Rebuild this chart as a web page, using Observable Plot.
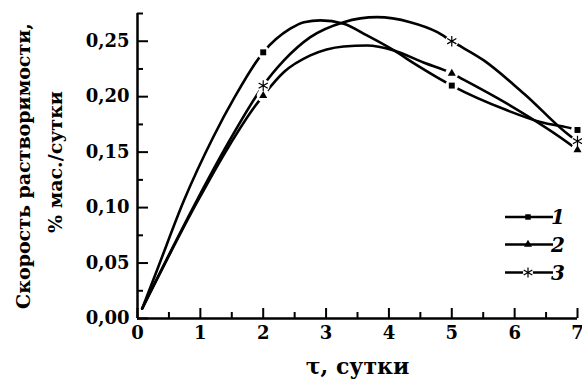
<!DOCTYPE html>
<html><head><meta charset="utf-8">
<script src="https://cdn.jsdelivr.net/npm/d3@7"></script>
<script src="https://cdn.jsdelivr.net/npm/@observablehq/plot@0.6"></script>
<style>
body{margin:0;background:#fff}
#chart{width:582px;height:387px}
</style>
</head><body><div id="chart"></div>
<script>
// ---- data ----
const seriesNames = ["1", "2", "3"];
const seriesSymbols = ["square", "triangle", "asterisk"];

// measured points (markers)
const markerX = [2, 5, 7];
const markerY1 = [0.240, 0.210, 0.170];
const markerY2 = [0.201, 0.221, 0.152];
const markerY3 = [0.210, 0.250, 0.160];

// fitted curves
const curve1X = [0.075, 0.33, 0.74, 1.2, 1.55, 2.0, 2.43, 2.65, 2.91, 3.28, 3.65, 4.08, 4.45, 5.0, 5.88, 6.41, 6.92, 7.0];
const curve1Y = [0.009, 0.0465, 0.1066, 0.163, 0.200, 0.240, 0.2613, 0.2672, 0.2688, 0.2658, 0.2552, 0.2417, 0.2282, 0.210, 0.1877, 0.1771, 0.1712, 0.170];
const curve2X = [0.075, 0.954, 1.44, 1.877, 2.0, 2.33, 2.75, 3.28, 3.65, 4.08, 4.55, 5.0, 5.14, 5.88, 6.94, 7.0];
const curve2Y = [0.009, 0.1055, 0.154, 0.192, 0.201, 0.2222, 0.2372, 0.2453, 0.2462, 0.2417, 0.2308, 0.221, 0.2168, 0.1937, 0.1546, 0.152];
const curve3X = [0.075, 0.954, 1.44, 1.877, 2.0, 2.33, 2.75, 3.28, 3.81, 4.34, 4.77, 5.0, 5.51, 6.15, 6.94, 7.0];
const curve3Y = [0.009, 0.1075, 0.158, 0.1995, 0.210, 0.2327, 0.2537, 0.2672, 0.2717, 0.2672, 0.2582, 0.250, 0.2327, 0.2027, 0.1622, 0.160];

const xTicks = [0, 1, 2, 3, 4, 5, 6, 7];
const xMinorTicks = [0.5, 1.5, 2.5, 3.5, 4.5, 5.5, 6.5];
const yTicks = [0, 0.05, 0.10, 0.15, 0.20, 0.25];
const yMinorTicks = [0.025, 0.075, 0.125, 0.175, 0.225, 0.275];

const xLabel = "τ, сутки";
const yLabel1 = "Скорость растворимости,";
const yLabel2 = "% мас./сутки";

// ---- tables for Plot ----
const curveX = [curve1X, curve2X, curve3X];
const curveY = [curve1Y, curve2Y, curve3Y];
const markerY = [markerY1, markerY2, markerY3];
const curves = seriesNames.flatMap((s, i) => curveX[i].map((x, j) => ({s, x, y: curveY[i][j]})));
const markers = seriesNames.flatMap((s, i) => markerX.map((x, j) => ({s, sym: seriesSymbols[i], x, y: markerY[i][j]})));

const font = "'DejaVu Serif', 'Liberation Serif', serif";
const fmt = d => d.toFixed(2).replace(".", ",");

const plot = Plot.plot({
  width: 582, height: 387,
  marginLeft: 137, marginRight: 5, marginTop: 13, marginBottom: 69,
  x: {domain: [0, 7]},
  y: {domain: [0, 0.275]},
  symbol: {domain: seriesSymbols, range: seriesSymbols},
  style: {fontFamily: font, fontWeight: "bold", fontSize: "18px", background: "white", color: "black", overflow: "visible"},
  marks: [
    Plot.axisX({ticks: xTicks, tickSize: 0, tickPadding: 8, tickFormat: d => String(d), label: null}),
    Plot.axisX({ticks: xTicks, tickSize: -10, text: null, strokeWidth: 2, label: null}),
    Plot.axisX({ticks: xMinorTicks, tickSize: -6, text: null, strokeWidth: 2, label: null}),
    Plot.axisY({ticks: yTicks, tickSize: 0, tickPadding: 8, tickFormat: fmt, label: null}),
    Plot.axisY({ticks: yTicks, tickSize: -11, text: null, strokeWidth: 2, label: null}),
    Plot.axisY({ticks: yMinorTicks, tickSize: -6, text: null, strokeWidth: 2, label: null}),
    Plot.ruleY([0], {strokeWidth: 2.5}),
    Plot.ruleX([0], {strokeWidth: 2.5}),
    Plot.line(curves, {x: "x", y: "y", z: "s", curve: "monotone-x", stroke: "black", strokeWidth: 2.6}),
    Plot.dot(markers, {x: "x", y: "y", r: 6.5, fill: "white", stroke: null}),
    Plot.dot(markers.filter(d => d.sym !== "asterisk"), {x: "x", y: "y", symbol: "sym", r: d => d.sym === "square" ? 4 : 3.2, fill: "black", stroke: null}),
    Plot.dot(markers.filter(d => d.sym === "asterisk"), {x: "x", y: "y", symbol: "sym", r: 5, stroke: "black", strokeWidth: 1.2, fill: "none"}),
    Plot.text([xLabel], {text: d => d, frameAnchor: "bottom", textAnchor: "middle", dy: 55, fontSize: 22, fontWeight: "bold"}),
    Plot.text([yLabel1], {text: d => d, frameAnchor: "left", textAnchor: "middle", dx: -114, rotate: -90, fontSize: 19, fontWeight: "bold"}),
    Plot.text([yLabel2], {text: d => d, frameAnchor: "left", textAnchor: "middle", dx: -82, dy: -4, rotate: -90, fontSize: 19, fontWeight: "bold"})
  ]
});
document.getElementById("chart").appendChild(plot);

// ---- legend (drawn into the same svg) ----
const svg = d3.select(plot);
const lg = svg.append("g").attr("class", "legend");
const legendY = [217, 244.5, 272.5];
seriesNames.forEach((name, i) => {
  const g = lg.append("g").attr("transform", `translate(0,${legendY[i]})`);
  g.append("line").attr("x1", 505).attr("x2", 553).attr("y1", 0).attr("y2", 0)
    .attr("stroke", "black").attr("stroke-width", 2.6);
  const sym = seriesSymbols[i];
  const sz = sym === "square" ? 30 : sym === "triangle" ? 28 : 70;
  const p = d3.symbol(sym === "square" ? d3.symbolSquare : sym === "triangle" ? d3.symbolTriangle : d3.symbolAsterisk, sz)();
  if (sym === "asterisk") {
    g.append("circle").attr("cx", 528).attr("cy", 0).attr("r", 5).attr("fill", "white");
    g.append("path").attr("d", p).attr("transform", "translate(528,0)").attr("stroke", "black").attr("stroke-width", 1.2).attr("fill", "none");
  } else {
    g.append("path").attr("d", p).attr("transform", "translate(528,0)").attr("fill", "black");
  }
  g.append("text").attr("x", 558).attr("y", 0).attr("dy", "0.35em")
    .attr("font-family", font).attr("font-weight", "bold").attr("font-style", "italic")
    .attr("font-size", 20).attr("fill", "black").text(name);
});
</script>
</body></html>
